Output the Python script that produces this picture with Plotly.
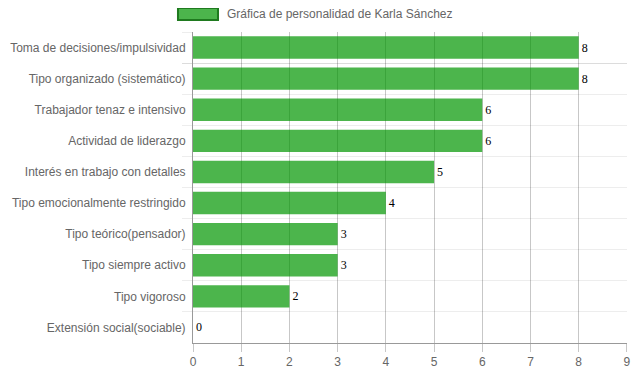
import plotly.graph_objects as go

categories = [
    "Toma de decisiones/impulsividad",
    "Tipo organizado (sistemático)",
    "Trabajador tenaz e intensivo",
    "Actividad de liderazgo",
    "Interés en trabajo con detalles",
    "Tipo emocionalmente restringido",
    "Tipo teórico(pensador)",
    "Tipo siempre activo",
    "Tipo vigoroso",
    "Extensión social(sociable)",
]
values = [8, 8, 6, 6, 5, 4, 3, 3, 2, 0]
x_ticks = [0, 1, 2, 3, 4, 5, 6, 7, 8, 9]
series_name = "Gráfica de personalidad de Karla Sánchez"

font_sans = "Liberation Sans, Arial, Helvetica, sans-serif"

fig = go.Figure()
fig.add_trace(go.Bar(
    x=values,
    y=categories,
    orientation="h",
    marker=dict(color="rgba(0,149,0,0.7)", line=dict(width=0)),
    text=[str(v) for v in values],
    textposition="outside",
    textfont=dict(family="Liberation Serif, Times New Roman, serif", size=12, color="#000"),
    cliponaxis=False,
    showlegend=False,
    hoverinfo="x+y",
))

# manual legend box
fig.add_shape(type="rect", xref="paper", yref="paper",
              x0=-0.0346, x1=0.0576, y0=1.0386, y1=1.0772,
              fillcolor="rgba(0,149,0,0.7)", line=dict(color="#1f7a1f", width=2))
fig.add_annotation(xref="paper", yref="paper", x=0.074, y=1.058,
                   text=series_name, showarrow=False, xanchor="left", yanchor="middle",
                   font=dict(family=font_sans, size=12, color="#666"))

# page body has an 8px margin, so the figure is sized to the visible area
fig.update_layout(
    width=623, height=364,
    margin=dict(l=185, r=4, t=24, b=29, autoexpand=False),
    paper_bgcolor="white", plot_bgcolor="white",
    bargap=0.28,
    font=dict(family=font_sans, size=12, color="#666"),
    xaxis=dict(
        range=[0, 9.002], tickvals=x_ticks, showgrid=True, gridcolor="rgba(0,0,0,0.22)",
        gridwidth=1, zeroline=False, showline=True, linecolor="#999", linewidth=1,
        ticks="outside", ticklen=8, tickcolor="rgba(0,0,0,0.22)", automargin=False,
        tickfont=dict(family=font_sans, size=12, color="#666"), fixedrange=True,
    ),
    yaxis=dict(
        type="category", autorange="reversed", tickson="boundaries",
        showgrid=True, gridcolor="rgba(0,0,0,0.07)", zeroline=False,
        showline=True, linecolor="#999", linewidth=1, automargin=False,
        ticks="outside", ticklen=10, tickcolor="rgba(0,0,0,0.07)",
        ticklabelstandoff=4,
        tickfont=dict(family=font_sans, size=12, color="#666"), fixedrange=True,
    ),
)

fig.write_html("out.html")
